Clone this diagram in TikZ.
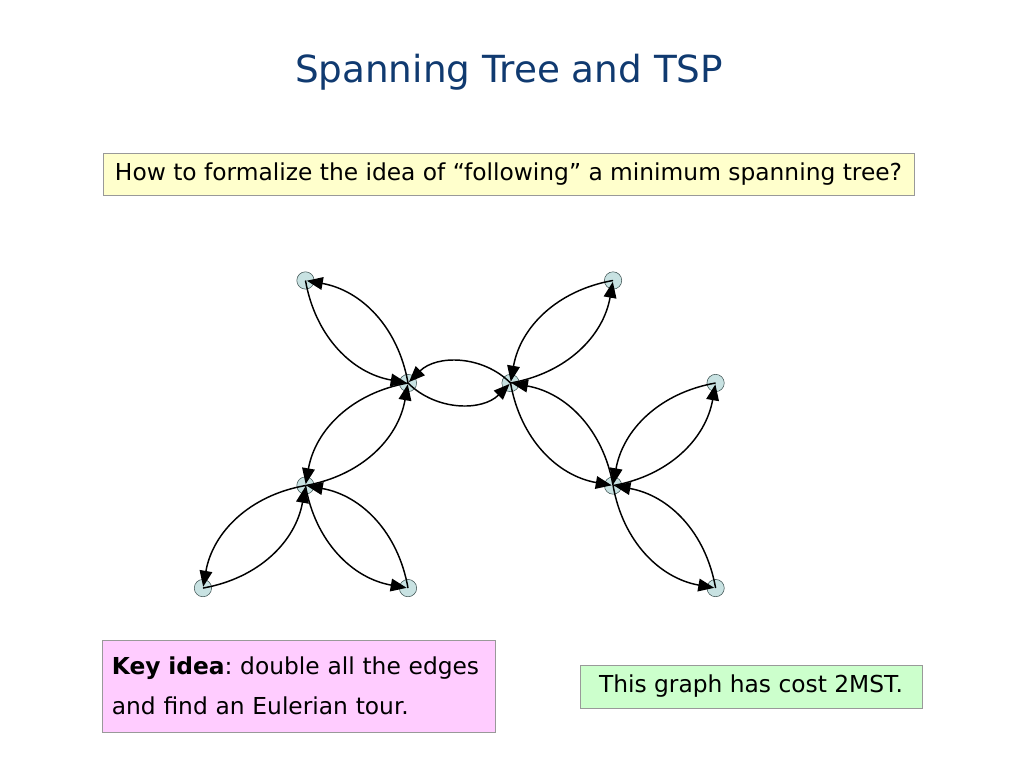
\documentclass[tikz,border=0pt]{standalone}
\usepackage{fontspec}
\setmainfont{DejaVu Sans}
\usetikzlibrary{positioning,arrows.meta}
\definecolor{titleblue}{RGB}{16,58,112}
\definecolor{vtxfill}{RGB}{200,226,226}
\definecolor{vtxdraw}{RGB}{60,80,80}
\definecolor{boxyellow}{RGB}{255,255,204}
\definecolor{boxpink}{RGB}{255,204,255}
\definecolor{boxgreen}{RGB}{204,255,204}
\frenchspacing

\begin{document}
\begin{tikzpicture}[x=0.75pt,y=-0.75pt,
    vtx/.style={circle,draw=vtxdraw,fill=vtxfill,thin,minimum size=13pt,inner sep=0pt},
    arc/.style={-{Triangle[length=12pt,width=9.5pt]},line width=1.1pt,bend right=35,shorten >=1pt},
    note/.style={draw=black!40,font=\fontsize{17.5}{30}\selectfont,inner sep=0pt},
    node distance=76.9pt and 76.9pt, on grid]
    \useasboundingbox (0,0) rectangle (1024,768);
    \node[text=titleblue,font=\fontsize{28}{32}\selectfont] (title) at (509,72) {Spanning Tree and TSP};
    \node[note,fill=boxyellow,minimum width=608pt,minimum height=31.5pt] (question) at (508.5,174)
        {How to formalize the idea of “following” a minimum spanning tree?};
    % the tree
    \node[vtx] (b) at (408,383) {};
    \node[vtx, above left=of b] (a) {};
    \node[vtx, right=of b] (c) {};
    \node[vtx, above right=of c] (d) {};
    \node[vtx, below right=of c] (f) {};
    \node[vtx, above right=of f] (e) {};
    \node[vtx, below right=of f] (g) {};
    \node[vtx, below left=of b] (h) {};
    \node[vtx, below left=of h] (i) {};
    \node[vtx, below right=of h] (j) {};
    % every edge doubled
    \foreach \u/\v in {a/b,c/d,c/f,f/e,f/g,b/h,h/i,h/j} {
        \draw[arc] (\u.center) to (\v.center);
        \draw[arc] (\v.center) to (\u.center);
    }
    \draw[arc,bend right=45] (b.center) to (c.center);
    \draw[arc,bend right=45] (c.center) to (b.center);
    \node[note,fill=boxpink,minimum width=295pt,minimum height=69pt,text width=280pt,align=left] (key) at (298.5,686)
        {\textbf{Key idea}: double all the edges\\and find an Eulerian tour.};
    \node[note,fill=boxgreen,minimum width=256.5pt,minimum height=32pt] (cost) at (751,686.5)
        {This graph has cost 2MST.};
\end{tikzpicture}
\end{document}
